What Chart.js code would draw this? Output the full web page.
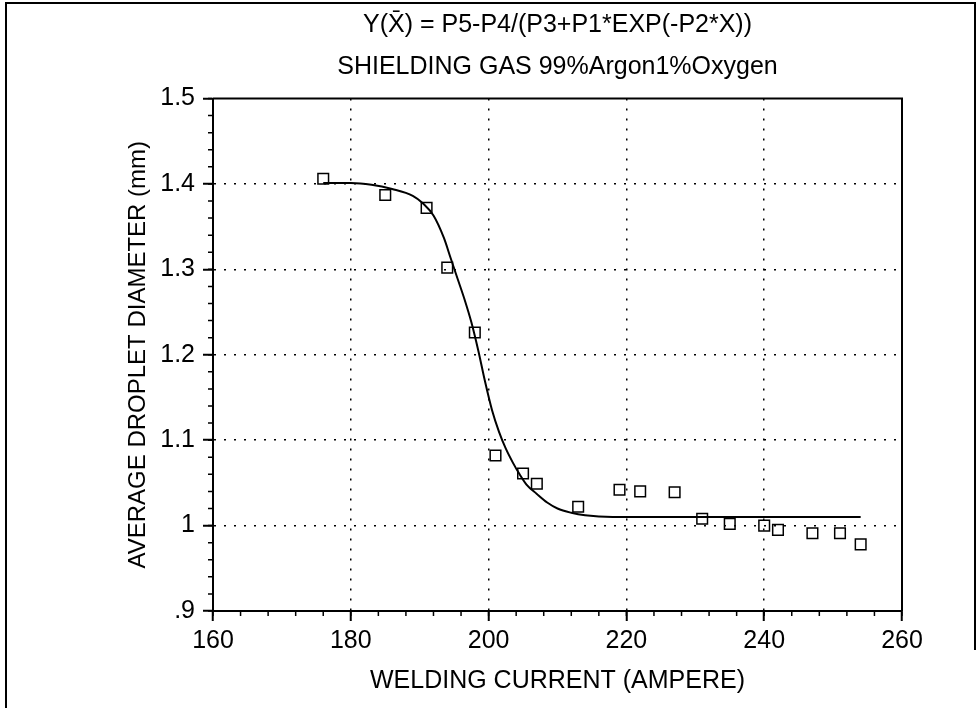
<!DOCTYPE html>
<html>
<head>
<meta charset="utf-8">
<script src="https://cdn.jsdelivr.net/npm/chart.js@4.4.1/dist/chart.umd.min.js"></script>
<style>
html, body { margin: 0; padding: 0; background: #fff; }
</style>
</head>
<body>
<canvas id="DropletChart" width="977" height="708"></canvas>
<script>
// measured droplet sizes
const current = [176, 185, 191, 194, 198, 201, 205, 207, 213, 219, 222, 227, 231, 235, 240, 242, 247, 251, 254];
const diameter = [1.406, 1.387, 1.372, 1.302, 1.226, 1.082, 1.061, 1.049, 1.022, 1.042, 1.040, 1.039, 1.008, 1.002, 1.000, 0.995, 0.991, 0.991, 0.978];

// fitted curve
const fit_current = [176, 180, 183, 186, 189, 190.5, 192, 193.5, 194.5, 195.5, 196.5, 197.5, 198.5, 199.5, 200.5, 201.5, 202.5, 203.5, 204.5, 205.5, 207, 208.5, 210, 212, 214, 218, 230, 254];
const fit_diameter = [1.401, 1.401, 1.399, 1.394, 1.386, 1.377, 1.363, 1.337, 1.313, 1.289, 1.265, 1.238, 1.205, 1.168, 1.135, 1.110, 1.090, 1.074, 1.060, 1.048, 1.037, 1.027, 1.020, 1.015, 1.012, 1.010, 1.010, 1.010];

const x_ticks = [160, 180, 200, 220, 240, 260];
const y_ticks = [0.9, 1.0, 1.1, 1.2, 1.3, 1.4, 1.5];
const y_tick_labels = ['.9', '1', '1.1', '1.2', '1.3', '1.4', '1.5'];
const x_minor_step = 4;
const y_minor_step = 0.02;

const title_lines = ['Y(X\u0304) = P5-P4/(P3+P1*EXP(-P2*X))', 'SHIELDING GAS 99%Argon1%Oxygen'];

const FONT = '"Liberation Sans", Arial, sans-serif';

Chart.defaults.color = '#000';
Chart.defaults.font.family = FONT;

const edge_transparent = (list) => (c) => (c.index === 0 || c.index === list.length - 1) ? 'rgba(0,0,0,0)' : '#000';

const frame_plugin = {
    id: 'frame',
    afterDraw(chart) {
        const ctx = chart.ctx;
        const area = chart.chartArea;
        const xs = chart.scales.x;
        const ys = chart.scales.y;
        ctx.save();
        ctx.strokeStyle = '#000';
        ctx.lineWidth = 2;
        ctx.beginPath();
        ctx.moveTo(area.left, area.top);
        ctx.lineTo(area.right, area.top);
        ctx.lineTo(area.right, area.bottom);
        ctx.stroke();

        // minor ticks
        ctx.lineWidth = 1.5;
        ctx.beginPath();
        for (let v = x_ticks[0]; v <= x_ticks[x_ticks.length - 1]; v += x_minor_step) {
            const px = xs.getPixelForValue(v);
            ctx.moveTo(px, area.bottom);
            ctx.lineTo(px, area.bottom + 5);
        }
        for (let i = 0; i * y_minor_step <= 0.6 + 1e-9; i++) {
            const py = ys.getPixelForValue(y_ticks[0] + i * y_minor_step);
            ctx.moveTo(area.left - 5, py);
            ctx.lineTo(area.left, py);
        }
        ctx.stroke();

        // page frame
        ctx.lineWidth = 2;
        ctx.beginPath();
        ctx.moveTo(6, chart.height);
        ctx.lineTo(6, 3);
        ctx.lineTo(975, 3);
        ctx.lineTo(975, 650);
        ctx.stroke();
        ctx.restore();
    }
};

function plot_droplet_chart() {
    const ctx = document.getElementById('DropletChart').getContext('2d');
    const data = {
        datasets: [
            {
                label: 'fit',
                data: fit_current.map((x, i) => ({x: x, y: fit_diameter[i]})),
                showLine: true,
                borderColor: '#000',
                borderWidth: 2,
                pointRadius: 0,
                fill: false,
                cubicInterpolationMode: 'monotone'
            },
            {
                label: 'measured',
                data: current.map((x, i) => ({x: x, y: diameter[i]})),
                showLine: false,
                pointStyle: 'rect',
                pointRadius: 7.5,
                pointBorderWidth: 1.5,
                borderColor: '#000',
                backgroundColor: 'rgba(0,0,0,0)'
            }
        ]
    };
    const chart = new Chart(ctx, {
        type: 'scatter',
        data: data,
        plugins: [frame_plugin],
        options: {
            responsive: false,
            animation: false,
            layout: { padding: { left: 120, right: 75, top: 4, bottom: 0 } },
            plugins: {
                legend: { display: false },
                tooltip: { enabled: false }
            },
            scales: {
                // top axis only carries the two title lines, centred over the plot
                x2: {
                    type: 'linear',
                    position: 'top',
                    min: 160,
                    max: 260,
                    afterFit: scale => { scale.height = 94.5; },
                    ticks: { display: false },
                    grid: { display: false, drawTicks: false },
                    border: { display: false },
                    title: {
                        display: true,
                        text: title_lines,
                        font: { size: 25, lineHeight: 1.68 },
                        padding: { top: 0, bottom: 0 }
                    }
                },
                x: {
                    type: 'linear',
                    position: 'bottom',
                    min: 160,
                    max: 260,
                    afterBuildTicks: axis => { axis.ticks = x_ticks.map(v => ({value: v})); },
                    afterFit: scale => { scale.height = 97; },
                    ticks: { font: { size: 25 }, padding: 5, maxRotation: 0 },
                    grid: {
                        color: edge_transparent(x_ticks),
                        lineWidth: 1.5,
                        tickColor: '#000',
                        tickWidth: 2,
                        tickLength: 10
                    },
                    border: { display: true, color: '#000', width: 2, dash: [2, 8] },
                    title: {
                        display: true,
                        text: 'WELDING CURRENT (AMPERE)',
                        font: { size: 25 },
                        padding: { top: 0, bottom: 12 }
                    }
                },
                y: {
                    type: 'linear',
                    min: 0.9,
                    max: 1.5,
                    afterBuildTicks: axis => { axis.ticks = y_ticks.map(v => ({value: v})); },
                    afterFit: scale => { scale.width = 93; },
                    ticks: {
                        font: { size: 25 },
                        padding: 8,
                        callback: (value, index) => y_tick_labels[index]
                    },
                    grid: {
                        color: edge_transparent(y_ticks),
                        lineWidth: 1.5,
                        tickColor: '#000',
                        tickWidth: 2,
                        tickLength: 10
                    },
                    border: { display: true, color: '#000', width: 2, dash: [2, 8] },
                    title: {
                        display: true,
                        text: 'AVERAGE DROPLET DIAMETER (mm)',
                        font: { size: 24 },
                        padding: { top: 4, bottom: 0 }
                    }
                }
            }
        }
    });
    return chart;
}

plot_droplet_chart();
</script>
</body>
</html>
